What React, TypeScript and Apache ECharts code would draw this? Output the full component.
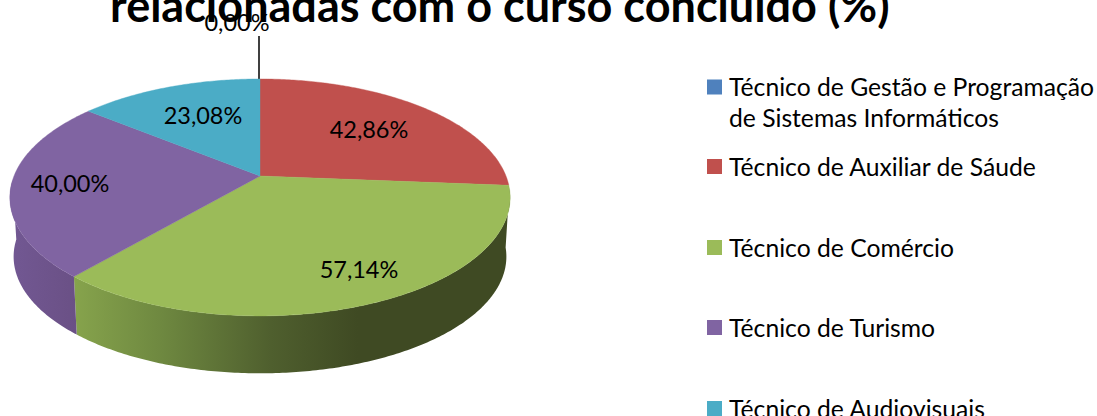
import React, { useEffect, useRef } from "react";
import * as echarts from "echarts";

const titleText = "relacionadas com o curso concluído (%)";
const categories = [
  "Técnico de Gestão e Programação\nde Sistemas Informáticos",
  "Técnico de Auxiliar de Sáude",
  "Técnico de Comércio",
  "Técnico de Turismo",
  "Técnico de Audiovisuais",
];
const values = [0, 42.86, 57.14, 40.0, 23.08];
const valueLabels = ["0,00%", "42,86%", "57,14%", "40,00%", "23,08%"];
const colors = ["#4f81bd", "#c0504d", "#9bbb59", "#8064a2", "#4bacc6"];

const labelPos = [[237, 22], [369, 129], [359, 269], [70, 183], [203, 115]];
const legendTops = [71, 151, 232, 312, 393];
const FONT = "Lato, Carlito, Calibri, 'Open Sans', sans-serif";

const CX = 260, CY = 176, A = 114.6, B = 246, K = 0.181, DEPTH = 59.5, LOW = 0.985;
const total = values.reduce((s, v) => s + v, 0);

const proj = (t: number, r = 1, lower = false): number[] => {
  const u = r * Math.sin(t), v = r * Math.cos(t), w = 1 + K * v;
  const s = lower ? LOW : 1;
  return [CX + (s * B * u) / w, CY + (lower ? DEPTH : 0) - (s * A * v) / w];
};
const rad = (d: number) => (d * Math.PI) / 180;

const sideFill = (i: number) => {
  if (i === 2)
    return new echarts.graphic.LinearGradient(75, 0, 510, 0, [
      { offset: 0, color: "#86a34c" },
      { offset: 0.2, color: "#6e8840" },
      { offset: 0.45, color: "#4f5f2e" },
      { offset: 0.65, color: "#3f4a23" },
      { offset: 1, color: "#3f4a23" },
    ], true);
  if (i === 3)
    return new echarts.graphic.LinearGradient(10, 0, 78, 0, [
      { offset: 0, color: "#725893" },
      { offset: 1, color: "#6a5085" },
    ], true);
  return colors[i];
};

const renderSlice = (i: number) => (_params: any, api: any) => {
  const before = values.slice(0, i).reduce((s, v) => s + v, 0);
  const start = (before / total) * 360;
  const end = ((before + api.value(0)) / total) * 360;
  const children: any[] = [];
  const arc = (a: number, b: number, lower = false) => {
    const pts: number[][] = [];
    const n = Math.max(2, Math.ceil(Math.abs(b - a) * 1.5));
    for (let j = 0; j <= n; j++) pts.push(proj(rad(a + ((b - a) * j) / n), 1, lower));
    return pts;
  };
  const s0 = Math.max(start, 96);
  const s1 = Math.min(end, 268);
  if (s1 > s0) {
    children.push({
      type: "polygon",
      shape: { points: [...arc(s0, s1), ...arc(s1, s0, true)] },
      style: { fill: sideFill(i), stroke: null },
    });
  }
  if (end > start) {
    children.push({
      type: "polygon",
      shape: { points: [[CX, CY], ...arc(start, end)] },
      style: { fill: colors[i], stroke: colors[i], lineWidth: 0.4 },
    });
  } else {
    children.push({
      type: "line",
      shape: { x1: 259, y1: 36, x2: 259, y2: 79 },
      style: { stroke: "#000", lineWidth: 1.5 },
    });
  }
  children.push({
    type: "text",
    z2: 50,
    style: {
      text: valueLabels[i],
      x: labelPos[i][0],
      y: labelPos[i][1],
      align: "center",
      verticalAlign: "middle",
      fill: "#000",
      font: `23.5px ${FONT}`,
    },
  });
  return { type: "group", children };
};

const legendIcon = "path://M0,0H15V15H0Z";
const legendIconTall = "path://M0,8.5H15V23.5H0Z M0,0H0.01V0.01H0Z M0,62H0.01V62.01H0Z";

export default function App() {
  const ref = useRef<HTMLDivElement>(null);
  useEffect(() => {
    const chart = echarts.init(ref.current!, null, { renderer: "svg" });
    chart.setOption({
      animation: false,
      backgroundColor: "#fff",
      title: {
        text: titleText,
        left: 110,
        top: -18,
        padding: 0,
        textStyle: { fontFamily: FONT, fontWeight: "bold", fontSize: 45, color: "#000" },
      },
      legend: categories.map((name, i) => ({
        data: [{ name, icon: i === 0 ? legendIconTall : legendIcon }],
        left: 707,
        top: legendTops[i],
        padding: 0,
        itemWidth: 15,
        itemHeight: i === 0 ? 62 : 15,
        itemGap: 0,
        selectedMode: false,
        textStyle: {
          fontFamily: FONT,
          fontSize: 24.7,
          lineHeight: 31,
          color: "#000",
          padding: [0, 0, 0, 2],
        },
      })),
      series: categories.map((name, i) => ({
        type: "custom",
        name,
        coordinateSystem: "none",
        silent: true,
        itemStyle: { color: colors[i] },
        data: [[values[i]]],
        renderItem: renderSlice(i),
      })),
    });
    return () => chart.dispose();
  }, []);
  return <div ref={ref} style={{ position: "fixed", left: 0, top: 0, width: 1097, height: 416 }} />;
}
